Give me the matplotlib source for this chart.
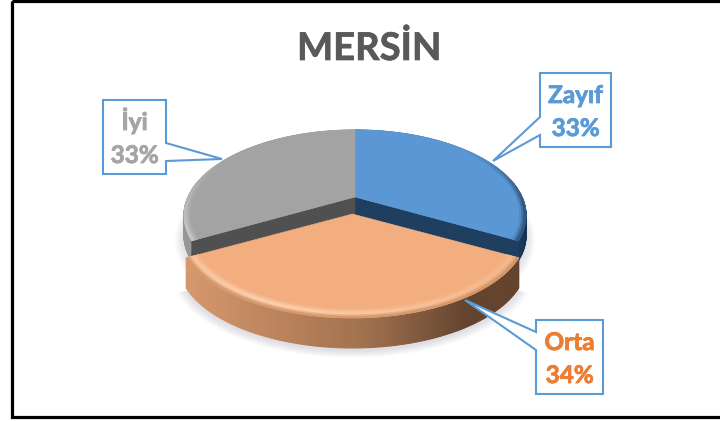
import numpy as np
import matplotlib
matplotlib.use("Agg")
import matplotlib.pyplot as plt
import matplotlib.patheffects as pe
from matplotlib.patches import Polygon, Rectangle

title = "MERSİN"
categories = ["Zayıf", "Orta", "İyi"]
values = [33, 34, 33]
text_colors = ["#5B9BD5", "#ED7D31", "#A5A5A5"]

# layout (pixel space of the picture)
CX, CY = 355, 197
A, B, K = 81.5, 167, 0.216
EXPLODE = 17
DEPTH_BACK, DEPTH_FRONT = 20, 30
FRONT_DX, FRONT_B = -2.5, 170
BOXES = {"Zayıf": (540, 611, 73, 147, 117, 135, "left", (493, 161)),
         "Orta": (536, 603, 320, 394, 332, 350, "left", (465, 300)),
         "İyi": (103, 166, 100, 174, 143, 161, "right", (222, 159))}

fig = plt.figure(figsize=(7.2, 4.21), dpi=100)
ax = fig.add_axes([0, 0, 1, 1])
ax.set_xlim(0, 720)
ax.set_ylim(421, 0)
ax.axis("off")

angles = np.cumsum([0] + values) / sum(values) * 2 * np.pi
spans = {c: (angles[i], angles[i + 1]) for i, c in enumerate(categories)}


def proj(r, th, cy=CY, dz=0.0, cx=CX, b=B):
    r, th = np.asarray(r, float), np.asarray(th, float)
    u, v = r * np.cos(th), r * np.sin(th)
    w = 1 + K * u
    return cx + b * v / w, cy - A * u / w + dz


def wedge(a, b, r=1.0, cy=CY, dz=0.0, n=120, cx=CX, bb=B):
    th = np.linspace(a, b, n)
    x, y = proj(r, th, cy, dz, cx, bb)
    return np.r_[[cx], x], np.r_[[cy + dz], y]


def fill(x, y, color, z, alpha=None):
    ax.fill(x, y, color=color, lw=0 if alpha else 0.4, zorder=z, alpha=alpha)


def mix(c1, c2, t):
    return tuple(np.array(c1) * (1 - t) + np.array(c2) * t)


def rgb(c):
    return tuple(np.array(c) / 255)


def strips(a, b, r0, r1, colorfn, cy, z, nth=90, nr=6, cx=CX, bb=B):
    ths = np.linspace(a, b, nth + 1)
    rs = np.linspace(r0, r1, nr + 1)
    for j in range(nr):
        for i in range(nth):
            x0, y0 = proj(rs[j], ths[i:i + 2], cy, 0, cx, bb)
            x1, y1 = proj(rs[j + 1], ths[i:i + 2], cy, 0, cx, bb)
            ax.fill(np.r_[x0, x1[::-1]], np.r_[y0, y1[::-1]],
                    color=rgb(colorfn(0.5 * (ths[i] + ths[i + 1]), (j + .5) / nr)),
                    lw=0.5, zorder=z)


def wall(a, b, cy, depth, colorfn, z, nth=120, cx=CX, bb=B):
    ths = np.linspace(a, b, nth + 1)
    for i in range(nth):
        x, y = proj(1.0, ths[i:i + 2], cy, 0, cx, bb)
        ax.fill(np.r_[x, x[::-1]], np.r_[y, (y + depth)[::-1]],
                color=rgb(colorfn(x.mean())), lw=0.8, zorder=z)


def cut(th, cy, depth, color, z):
    x, y = proj(1.0, th, cy)
    ax.fill([CX, x, x, CX], [cy, y, y + depth, cy + depth], color=color, lw=0.3, zorder=z)


# soft shadow
for s in np.linspace(1.05, 1.0, 7):
    a, b = spans["Orta"]
    x, y = wedge(a, b, s, CY + EXPLODE, DEPTH_FRONT + 3, cx=CX + FRONT_DX, bb=FRONT_B)
    fill(x, y, "#707080", 1, .03)
    x, y = wedge(0, 2 * np.pi, s, CY, DEPTH_BACK + 3)
    fill(x, y, "#707080", 1, .03)

# Zayıf
a, b = spans["Zayıf"]
wall(a, b, CY, DEPTH_BACK, lambda px: mix((60, 105, 150), (22, 50, 80), min(1, max(0, (px - 490) / 35))), 2)
cut(b, CY, DEPTH_BACK, "#1F3F60", 3)
x, y = wedge(a, b, 1.0)
fill(x, y, "#5B97D5", 4)
strips(a, b, .965, 1.0,
       lambda t, f: mix((91, 151, 213), (40, 72, 110), f * min(1, max(0, (t - np.radians(50)) / np.radians(45)))),
       CY, 5, nth=50, nr=3)

# İyi
a, b = spans["İyi"]
wall(a, b, CY, DEPTH_BACK, lambda px: (150, 150, 150), 2)
cut(a, CY, DEPTH_BACK, "#505050", 3)
x, y = wedge(a, b, 1.0)
fill(x, y, "#A3A3A3", 4)
strips(a, b, .965, 1.0,
       lambda t, f: mix((163, 163, 163), (205, 205, 205), f * min(1, max(0, (np.radians(300) - t) / np.radians(55)))),
       CY, 5, nth=50, nr=3)

# Orta (pulled out)
a, b = spans["Orta"]
oy = CY + EXPLODE
ox = CX + FRONT_DX


def side_color(px):
    t = (px - 186) / (515 - 186)
    if t < .55:
        return mix((214, 152, 108), (160, 112, 78), t / .55)
    return mix((160, 112, 78), (100, 68, 47), min(1, (t - .55) / .3))


wall(a, b, oy, DEPTH_FRONT, side_color, 6, cx=ox, bb=FRONT_B)
x, y = wedge(a, b, 1.0, oy, cx=ox, bb=FRONT_B)
fill(x, y, "#F3AE80", 7)


def bevel(t, f):
    glow = np.clip(1 - abs(t - np.radians(205)) / np.radians(75), 0, 1)
    base = (243, 174, 128)
    light = mix(base, (255, 214, 180), .3 + .7 * glow)
    if f < .55:
        return mix(base, light, f / .55)
    return mix(light, (205, 140, 95), (f - .55) / .45)


strips(a, b, .93, 1.0, bevel, oy, 8, nth=90, nr=6, cx=ox, bb=FRONT_B)

# frame
ax.add_patch(Rectangle((12, 0.5), 730, 416.5, fc="none", ec="black", lw=2.3, zorder=20))

# title
ax.text(369.5, 60, title, ha="center", va="baseline", family="Lato", weight="bold",
        fontsize=27.5, color="#595959", zorder=21,
        path_effects=[pe.withStroke(linewidth=0.5, foreground="#595959")])

# callouts + labels
for cat, val, col in zip(categories, values, text_colors):
    x0, x1, y0, y1, n0, n1, side, tip = BOXES[cat]
    if side == "left":
        pts = [(x0, y0), (x1, y0), (x1, y1), (x0, y1), (x0, n1), tip, (x0, n0)]
    else:
        pts = [(x0, y0), (x1, y0), (x1, n0), tip, (x1, n1), (x1, y1), (x0, y1)]
    ax.add_patch(Polygon(pts, closed=True, fc="white", ec="#5B9BD5", lw=1.5, joinstyle="miter", zorder=15))
    xc = (x0 + x1) / 2
    for txt, off in ((cat, 30), (f"{val}%", 63)):
        ax.text(xc, y0 + off, txt, ha="center", va="baseline", family="Lato", weight="bold",
                fontsize=17.5, color=col, zorder=16,
                path_effects=[pe.withStroke(linewidth=0.6, foreground=col)])

fig.savefig("out.png", dpi=100, facecolor="white")
